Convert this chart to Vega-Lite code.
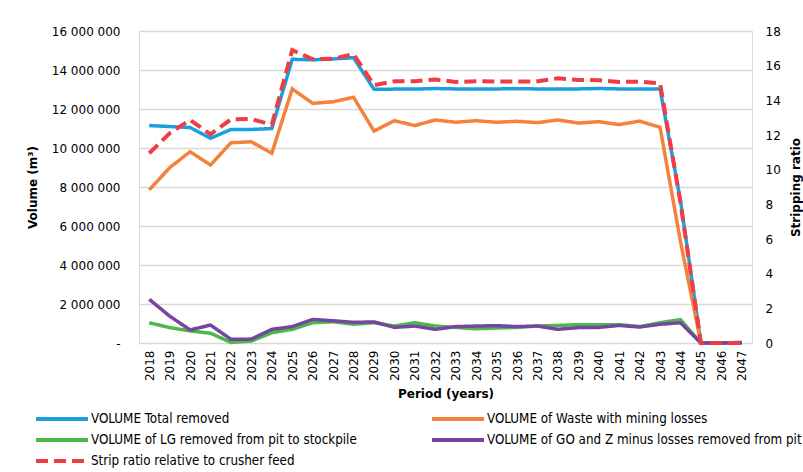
{
  "$schema": "https://vega.github.io/schema/vega-lite/v6.json",
  "width": 613,
  "height": 312,
  "autosize": {"type": "none"},
  "padding": {"left": 139, "top": 31, "right": 51, "bottom": 129},
  "background": "white",
  "config": {
    "font": "DejaVu Sans",
    "view": {"stroke": "#d9d9d9", "strokeWidth": 1},
    "axis": {"labelColor": "#000000", "titleColor": "#000000", "labelFontSize": 12, "titleFontSize": 12, "titleFontWeight": "bold", "ticks": false, "domain": false, "labelFont": "DejaVu Sans", "titleFont": "DejaVu Sans"},
    "legend": {"labelFont": "DejaVu Sans Condensed, Liberation Sans Narrow, DejaVu Sans", "labelFontSize": 13.3, "labelColor": "#000000", "labelLimit": 400}
  },
  "data": {
    "values": [
      {"year": "2018", "total": 11150000, "waste": 7850000, "lg": 1040000, "go": 2240000, "strip": 10.95},
      {"year": "2019", "total": 11100000, "waste": 8990000, "lg": 790000, "go": 1380000, "strip": 12.1},
      {"year": "2020", "total": 11050000, "waste": 9810000, "lg": 620000, "go": 670000, "strip": 12.87},
      {"year": "2021", "total": 10500000, "waste": 9130000, "lg": 500000, "go": 920000, "strip": 12.04},
      {"year": "2022", "total": 10950000, "waste": 10270000, "lg": 30000, "go": 190000, "strip": 12.9},
      {"year": "2023", "total": 10950000, "waste": 10320000, "lg": 100000, "go": 200000, "strip": 12.92},
      {"year": "2024", "total": 11000000, "waste": 9730000, "lg": 530000, "go": 700000, "strip": 12.6},
      {"year": "2025", "total": 14550000, "waste": 13030000, "lg": 700000, "go": 840000, "strip": 16.9},
      {"year": "2026", "total": 14520000, "waste": 12290000, "lg": 1040000, "go": 1210000, "strip": 16.37},
      {"year": "2027", "total": 14570000, "waste": 12370000, "lg": 1090000, "go": 1140000, "strip": 16.4},
      {"year": "2028", "total": 14630000, "waste": 12600000, "lg": 960000, "go": 1060000, "strip": 16.67},
      {"year": "2029", "total": 13010000, "waste": 10870000, "lg": 1040000, "go": 1080000, "strip": 14.88},
      {"year": "2030", "total": 13020000, "waste": 11400000, "lg": 870000, "go": 800000, "strip": 15.1},
      {"year": "2031", "total": 13020000, "waste": 11150000, "lg": 1040000, "go": 870000, "strip": 15.1},
      {"year": "2032", "total": 13050000, "waste": 11440000, "lg": 870000, "go": 700000, "strip": 15.2},
      {"year": "2033", "total": 13030000, "waste": 11320000, "lg": 800000, "go": 840000, "strip": 15.06},
      {"year": "2034", "total": 13030000, "waste": 11400000, "lg": 730000, "go": 870000, "strip": 15.1},
      {"year": "2035", "total": 13030000, "waste": 11320000, "lg": 770000, "go": 890000, "strip": 15.08},
      {"year": "2036", "total": 13040000, "waste": 11370000, "lg": 800000, "go": 840000, "strip": 15.08},
      {"year": "2037", "total": 13030000, "waste": 11300000, "lg": 870000, "go": 870000, "strip": 15.1},
      {"year": "2038", "total": 13030000, "waste": 11440000, "lg": 900000, "go": 700000, "strip": 15.27},
      {"year": "2039", "total": 13030000, "waste": 11280000, "lg": 940000, "go": 790000, "strip": 15.18},
      {"year": "2040", "total": 13050000, "waste": 11350000, "lg": 940000, "go": 800000, "strip": 15.16},
      {"year": "2041", "total": 13030000, "waste": 11200000, "lg": 940000, "go": 900000, "strip": 15.06},
      {"year": "2042", "total": 13030000, "waste": 11380000, "lg": 840000, "go": 820000, "strip": 15.08},
      {"year": "2043", "total": 13030000, "waste": 11060000, "lg": 1040000, "go": 960000, "strip": 14.98},
      {"year": "2044", "total": 7300000, "waste": 5200000, "lg": 1200000, "go": 1040000, "strip": 8.1},
      {"year": "2045", "total": 0, "waste": 0, "lg": 0, "go": 0, "strip": 0},
      {"year": "2046", "total": 0, "waste": 0, "lg": 0, "go": 0, "strip": 0},
      {"year": "2047", "total": 0, "waste": 0, "lg": 0, "go": 30000, "strip": 0}
    ]
  },
  "encoding": {
    "x": {
      "field": "year",
      "type": "ordinal",
      "title": "Period (years)",
      "scale": {"type": "point", "padding": 0.5},
      "axis": {"labelAngle": 270, "labelPadding": 7, "titlePadding": 8, "grid": false}
    }
  },
  "layer": [
    {
      "transform": [{"fold": ["total", "waste", "lg", "go"], "as": ["series", "value"]}],
      "mark": {"type": "line", "strokeWidth": 3.5},
      "encoding": {
        "y": {
          "field": "value",
          "type": "quantitative",
          "title": "Volume (m³)",
          "scale": {"domain": [0, 16000000], "nice": false},
          "axis": {"values": [0, 2000000, 4000000, 6000000, 8000000, 10000000, 12000000, 14000000, 16000000], "grid": true, "gridColor": "#d9d9d9", "gridWidth": 1.5, "labelPadding": 19, "titlePadding": 12, "labelExpr": "datum.value == 0 ? '-' : replace(format(datum.value, ',d'), /,/g, ' ')"}
        },
        "color": {
          "field": "series",
          "type": "nominal",
          "scale": {"domain": ["total", "waste", "lg", "go", "strip"], "range": ["#1aa0dc", "#f5823c", "#4cb848", "#7545a0", "#ef3d45"]},
          "legend": {
            "title": null,
            "orient": "none",
            "legendX": -88,
            "legendY": 377,
            "direction": "horizontal",
            "columns": 2,
            "columnPadding": 67,
            "rowPadding": 2,
            "symbolType": "M-3,0H3",
            "symbolSize": 300,
            "symbolStrokeWidth": 4,
            "labelOffset": 18,
            "labelExpr": "{'total': 'VOLUME Total removed', 'waste': 'VOLUME of Waste with mining losses', 'lg': 'VOLUME of LG removed from pit to stockpile', 'go': 'VOLUME of GO and Z minus losses removed from pit', 'strip': 'Strip ratio relative to crusher feed'}[datum.value]"
          }
        },
        "strokeDash": {
          "field": "series",
          "type": "nominal",
          "scale": {"domain": ["total", "waste", "lg", "go", "strip"], "range": [[1, 0], [1, 0], [1, 0], [1, 0], [12, 6]]},
          "legend": {
            "title": null,
            "orient": "none",
            "legendX": -88,
            "legendY": 377,
            "direction": "horizontal",
            "columns": 2,
            "columnPadding": 67,
            "rowPadding": 2,
            "symbolType": "M-3,0H3",
            "symbolSize": 300,
            "symbolStrokeWidth": 4,
            "labelOffset": 18,
            "labelExpr": "{'total': 'VOLUME Total removed', 'waste': 'VOLUME of Waste with mining losses', 'lg': 'VOLUME of LG removed from pit to stockpile', 'go': 'VOLUME of GO and Z minus losses removed from pit', 'strip': 'Strip ratio relative to crusher feed'}[datum.value]"
          }
        }
      }
    },
    {
      "transform": [{"fold": ["strip"], "as": ["series", "ratio"]}],
      "mark": {"type": "line", "strokeWidth": 4},
      "encoding": {
        "y": {
          "field": "ratio",
          "type": "quantitative",
          "title": "Stripping ratio",
          "scale": {"domain": [0, 18], "nice": false},
          "axis": {"orient": "right", "values": [0, 2, 4, 6, 8, 10, 12, 14, 16, 18], "grid": false, "labelPadding": 13, "titlePadding": 22, "titleAngle": 270}
        },
        "color": {"field": "series", "type": "nominal"},
        "strokeDash": {"field": "series", "type": "nominal"}
      }
    }
  ],
  "resolve": {"scale": {"y": "independent"}}
}
